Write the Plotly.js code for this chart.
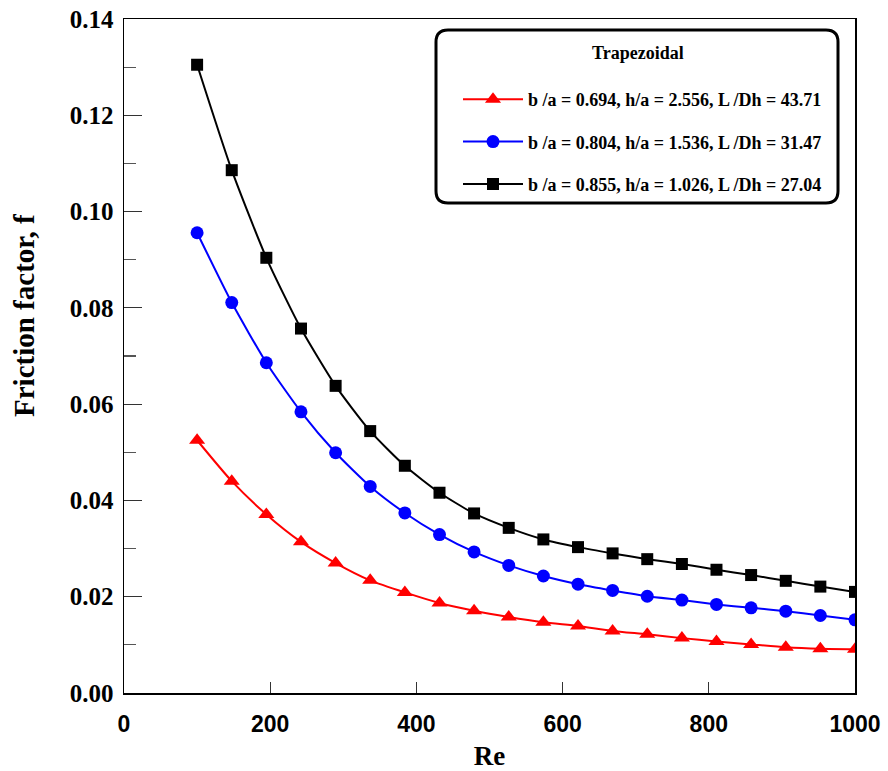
<!DOCTYPE html>
<html>
<head>
<meta charset="utf-8">
<script src="https://cdn.plot.ly/plotly-3.0.1.min.js"></script>
<style>html,body{margin:0;padding:0;background:#fff;}#chart{width:888px;height:771px;}</style>
</head>
<body>
<div id="chart"></div>
<script>
// Reynolds numbers (x)
const re = [100, 147.4, 194.7, 242.1, 289.5, 336.8, 384.2, 431.6, 478.9, 526.3,
            573.7, 621.1, 668.4, 715.8, 763.2, 810.5, 857.9, 905.3, 952.6, 1000];
// Friction factor series
const fRed = [0.0525, 0.0440, 0.0371, 0.0314, 0.0270, 0.0234, 0.0209, 0.0187, 0.0171, 0.0158,
              0.0147, 0.0139, 0.0129, 0.0122, 0.0114, 0.0107, 0.0101, 0.0095, 0.0092, 0.0091];
const fBlue = [0.0956, 0.0811, 0.0686, 0.0584, 0.0499, 0.0429, 0.0374, 0.0329, 0.0293, 0.0265,
               0.0243, 0.0226, 0.0213, 0.0201, 0.0193, 0.0184, 0.0177, 0.0170, 0.0161, 0.0152];
const fBlack = [0.1305, 0.1086, 0.0904, 0.0757, 0.0638, 0.0544, 0.0472, 0.0416, 0.0373, 0.0343,
                0.0319, 0.0303, 0.0290, 0.0278, 0.0268, 0.0256, 0.0245, 0.0233, 0.0221, 0.0210];
const seriesNames = [
  "b /a = 0.694, h/a = 2.556, L /Dh = 43.71",
  "b /a = 0.804, h/a = 1.536, L /Dh = 31.47",
  "b /a = 0.855, h/a = 1.026, L /Dh = 27.04"
];
const legendTitle = "Trapezoidal";
const yTickVals = [0, 0.02, 0.04, 0.06, 0.08, 0.10, 0.12, 0.14];
const xTickVals = [0, 200, 400, 600, 800, 1000];

const W = 888, H = 771;
const M = {l: 124, r: 33, t: 19, b: 78};
const pw = W - M.l - M.r, ph = H - M.t - M.b;
const px = v => (v - M.l) / pw;
const py = v => (H - M.b - v) / ph;

function mk(y, name, color, symbol, size, grp) {
  return {
    x: re, y: y, name: name, type: 'scatter', mode: 'lines+markers',
    legendgroup: grp,
    line: {color: color, width: 2, shape: 'spline', smoothing: 0.6},
    marker: {color: color, symbol: symbol, size: size}
  };
}
const data = [
  mk(fRed, seriesNames[0], '#ff0000', 'triangle-up', 14, 'a'),
  mk(fBlue, seriesNames[1], '#0000ff', 'circle', 13, 'b'),
  mk(fBlack, seriesNames[2], '#000000', 'square', 12, 'c')
];

// rounded legend frame in paper coords
const bx0 = px(436), bx1 = px(838), by0 = py(203), by1 = py(30);
const rx = 12 / pw, ry = 12 / ph;
const framePath = `M ${bx0 + rx},${by1} L ${bx1 - rx},${by1} Q ${bx1},${by1} ${bx1},${by1 - ry} ` +
  `L ${bx1},${by0 + ry} Q ${bx1},${by0} ${bx1 - rx},${by0} L ${bx0 + rx},${by0} ` +
  `Q ${bx0},${by0} ${bx0},${by0 + ry} L ${bx0},${by1 - ry} Q ${bx0},${by1} ${bx0 + rx},${by1} Z`;

const serif = '"Liberation Serif", "Times New Roman", serif';
const sans = '"Liberation Sans", Arial, sans-serif';

const layout = {
  width: W, height: H,
  margin: M,
  paper_bgcolor: '#fff', plot_bgcolor: '#fff',
  showlegend: true,
  legend: {
    x: px(458), y: py(81), xanchor: 'left', yanchor: 'top',
    bgcolor: 'rgba(0,0,0,0)', borderwidth: 0,
    traceorder: 'grouped', tracegroupgap: 16,
    itemwidth: 60,
    font: {family: serif, size: 18, color: '#000', weight: 'bold'}
  },
  xaxis: {
    range: [0, 1000], tickvals: xTickVals, ticktext: xTickVals.map(String),
    ticks: 'inside', ticklen: 11, tickwidth: 1, tickcolor: '#333',
    showline: true, linecolor: '#000', linewidth: 1.5, mirror: true,
    showgrid: false, zeroline: false,
    tickfont: {family: sans, size: 23, color: '#000', weight: 'bold'},
    ticklabelstandoff: 10,
    title: {text: 'Re', font: {family: serif, size: 27, color: '#000', weight: 'bold'}, standoff: 14}
  },
  yaxis: {
    range: [0, 0.14], tickvals: yTickVals, tickformat: '.2f',
    ticks: 'inside', ticklen: 18, tickwidth: 1.2, tickcolor: '#333',
    minor: {dtick: 0.01, ticks: 'inside', ticklen: 12, tickcolor: '#555', tickwidth: 1.2, showgrid: false},
    showline: true, linecolor: '#000', linewidth: 1.5, mirror: true,
    showgrid: false, zeroline: false,
    tickfont: {family: serif, size: 25, color: '#000', weight: 'bold'},
    ticklabelstandoff: 4
  },
  shapes: [{
    type: 'path', xref: 'paper', yref: 'paper', path: framePath,
    line: {color: '#000', width: 3}, fillcolor: 'rgba(0,0,0,0)', layer: 'above'
  }],
  annotations: [{
    text: 'Friction factor, f', xref: 'paper', yref: 'paper',
    x: px(24), y: py(316), xanchor: 'center', yanchor: 'middle',
    textangle: -90, showarrow: false,
    font: {family: serif, size: 29, color: '#000', weight: 'bold'}
  }, {
    text: legendTitle, xref: 'paper', yref: 'paper',
    x: px(638), y: py(53), xanchor: 'center', yanchor: 'middle',
    showarrow: false,
    font: {family: serif, size: 18, color: '#000', weight: 'bold'}
  }]
};

Plotly.newPlot('chart', data, layout, {displayModeBar: false, staticPlot: true});
</script>
</body>
</html>
